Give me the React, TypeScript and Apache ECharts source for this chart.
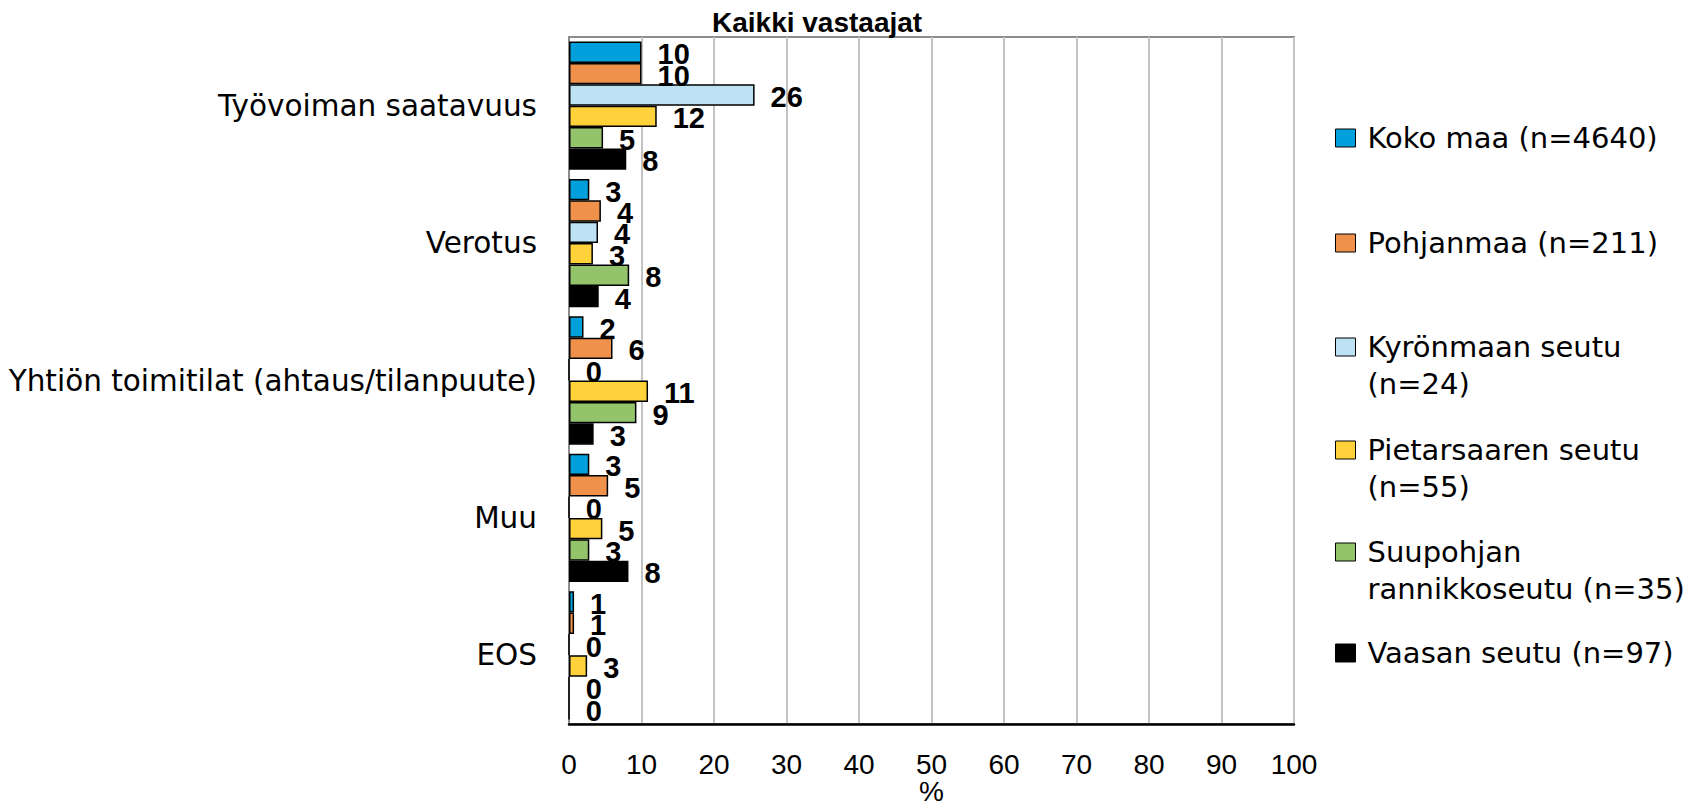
import React, { useEffect, useRef } from "react";
import * as echarts from "echarts";

const categories = [
  "Työvoiman saatavuus",
  "Verotus",
  "Yhtiön toimitilat (ahtaus/tilanpuute)",
  "Muu",
  "EOS",
];

const seriesNames = [
  "Koko maa (n=4640)",
  "Pohjanmaa (n=211)",
  "Kyrönmaan seutu\n(n=24)",
  "Pietarsaaren seutu\n(n=55)",
  "Suupohjan\nrannikkoseutu (n=35)",
  "Vaasan seutu (n=97)",
];

const kokoMaa = [10.0, 2.8, 2.0, 2.8, 0.7];
const pohjanmaa = [10.0, 4.4, 6.0, 5.4, 0.7];
const kyronmaa = [25.6, 4.0, 0, 0, 0];
const pietarsaari = [12.1, 3.3, 10.9, 4.6, 2.5];
const suupohja = [4.7, 8.3, 9.3, 2.8, 0];
const vaasa = [7.9, 4.1, 3.4, 8.2, 0];

const seriesValues = [kokoMaa, pohjanmaa, kyronmaa, pietarsaari, suupohja, vaasa];
const seriesColors = ["#00A0DC", "#F0914B", "#BDE2F4", "#FFD13A", "#93C36A", "#000000"];

const xTicks = { min: 0, max: 100, interval: 10 };
const legendCenters = [138, 243, 347, 450, 552, 653];

export default function App() {
  const ref = useRef<HTMLDivElement>(null);
  useEffect(() => {
    if (!ref.current) return;
    const chart = echarts.init(ref.current, null, { renderer: "svg" });
    const lineH = 37;
    const itemH = 18;
    const legends = seriesNames.map((name, i) => {
      const lines = name.split("\n").length;
      const extra = lines - 1;
      const totalLines = lines + extra;
      const H = totalLines * lineH;
      const iconTop = legendCenters[i] - itemH / 2;
      const top = iconTop - Math.max(0, H / 2 - itemH / 2);
      return {
        data: [name],
        orient: "vertical",
        left: 1335,
        top,
        padding: 0,
        itemWidth: 20,
        itemHeight: itemH,
        icon: "rect",
        selectedMode: false,
        formatter: (n: string) => "\n".repeat(extra) + n,
        itemStyle: { borderColor: "#000", borderWidth: 1 },
        textStyle: {
          fontFamily: "DejaVu Sans",
          fontSize: 29,
          color: "#000",
          lineHeight: lineH,
          padding: [0, 0, 0, 7],
        },
      };
    });
    chart.setOption({
      animation: false,
      backgroundColor: "#fff",
      title: {
        text: "Kaikki vastaajat",
        left: 712,
        top: 8,
        padding: 0,
        textStyle: {
          fontFamily: "Liberation Sans",
          fontSize: 28,
          fontWeight: "bold",
          color: "#000",
        },
      },
      legend: legends,
      grid: {
        left: 569,
        right: 394,
        top: 37,
        bottom: 78,
        outerBoundsMode: "none",
        containLabel: false,
        show: true,
        borderColor: "#8c8c8c",
        borderWidth: 2,
        backgroundColor: "transparent",
      },
      xAxis: {
        type: "value",
        min: xTicks.min,
        max: xTicks.max,
        interval: xTicks.interval,
        name: "%",
        nameLocation: "middle",
        nameGap: 57,
        nameMoveOverlap: false,
        nameTextStyle: { fontFamily: "Liberation Sans", fontSize: 28, color: "#000", lineHeight: 20 },
        axisLine: { show: true, lineStyle: { color: "#000", width: 2.5 } },
        axisTick: { show: false },
        axisLabel: { fontFamily: "Liberation Sans", fontSize: 28, color: "#000", margin: 26 },
        splitLine: { show: true, lineStyle: { color: "#c3c3c3", width: 2 } },
      },
      yAxis: {
        type: "category",
        inverse: true,
        data: categories,
        axisLine: { show: true, lineStyle: { color: "#8c8c8c", width: 2 } },
        axisTick: { show: false },
        axisLabel: { fontFamily: "DejaVu Sans", fontSize: 29.5, color: "#000", margin: 32 },
        splitLine: { show: false },
      },
      series: seriesNames.map((name, i) => ({
        name,
        type: "bar",
        data: seriesValues[i],
        barGap: "0%",
        barCategoryGap: "6.6%",
        itemStyle: { color: seriesColors[i], borderColor: "#000", borderWidth: 1.5 },
        label: {
          show: true,
          position: "right",
          distance: 16,
          offset: [0, 2],
          formatter: (p: any) => String(Math.round(p.value)),
          fontFamily: "Liberation Sans",
          fontSize: 29,
          fontWeight: "bold",
          color: "#000",
        },
      })),
    });
    return () => chart.dispose();
  }, []);
  return (
    <div
      ref={ref}
      style={{ position: "fixed", left: 0, top: 0, width: 1688, height: 802, background: "#fff" }}
    />
  );
}
